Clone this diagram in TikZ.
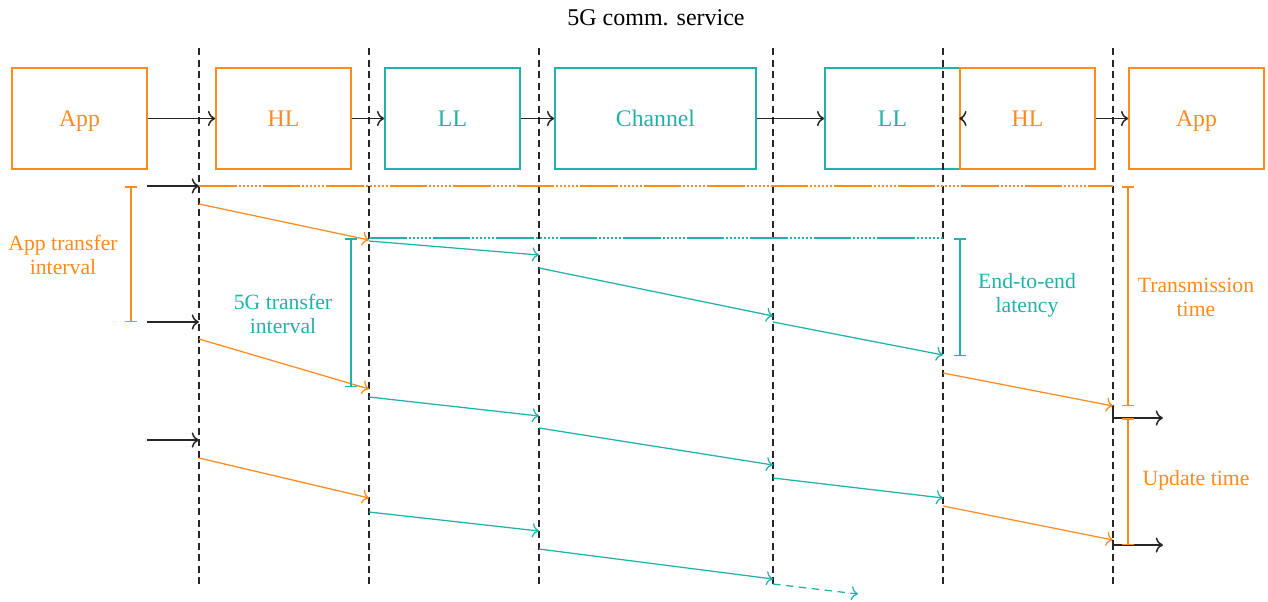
\documentclass[tikz,border=0pt]{standalone}
\usepackage{fontspec}
\setmainfont{Liberation Serif}
\usetikzlibrary{arrows.meta}
\definecolor{hlorange}{RGB}{255,138,30}
\definecolor{llteal}{RGB}{32,178,170}
\tikzset{
  stagebox/.style={draw, line width=0.6pt, minimum height=40.4pt, minimum width=54pt, text depth=0pt, font=\fontsize{9.5}{10}\selectfont},
  hlbox/.style={stagebox, draw=hlorange, text=hlorange},
  llbox/.style={stagebox, draw=llteal, text=llteal},
  boundary/.style={draw=black!85, line width=0.6pt, dash pattern=on 2.8pt off 1.8pt},
  flow/.style={->, black!85, line width=0.6pt},
  hlmsg/.style={->, hlorange, line width=0.5pt},
  llmsg/.style={->, llteal, line width=0.5pt},
  period/.style={line width=0.6pt, dash pattern=on 15pt off 0.8pt on 0.8pt off 0.8pt on 0.8pt off 0.8pt on 0.8pt off 0.8pt on 0.8pt off 0.8pt on 0.8pt off 0.8pt on 0.8pt off 0.8pt},
  span/.style={line width=0.6pt, {Bar[width=5pt]}-{Bar[width=5pt]}},
  caption/.style={align=center, font=\fontsize{8.7}{9.6}\selectfont}
}
\begin{document}
\begin{tikzpicture}[x={(0.4pt,0)}, y={(0,-0.4pt)}]
\useasboundingbox (0,0) rectangle (1268,601);

% title
\node[font=\fontsize{9.6}{10}\selectfont] (title) at (656,18) {5G comm. service};

% protocol stages
\node[hlbox] (app1) at (79.5,118.5) {App};
\node[hlbox] (hl1) at (283.5,118.5) {HL};
\node[llbox] (ll1) at (452.5,118.5) {LL};
\node[llbox, minimum width=80.4pt] (chan) at (655.5,118.5) {Channel};
\node[llbox] (ll2) at (892.5,118.5) {LL};
\node[hlbox] (hl2) at (1027.5,118.5) {HL};
\node[hlbox] (app2) at (1196.5,118.5) {App};

\draw[flow] (app1) -- (hl1);
\draw[flow] (hl1) -- (ll1);
\draw[flow] (ll1) -- (chan);
\draw[flow] (chan) -- (ll2);
\coordinate (llhl) at ([xshift=1.6pt]hl2.west);
\draw[flow] (llhl) -- (hl2.west);
\draw[flow] (hl2) -- (app2);

% layer boundaries
\foreach \n/\x in {a/199,b/369,c/539,d/773,e/943,f/1113}{
  \coordinate (\n top) at (\x,48);
  \coordinate (\n bot) at (\x,588);
  \draw[boundary] (\n top) -- (\n bot);
}

% application inputs
\coordinate (in1) at (147,186); \coordinate (in1e) at (199,186);
\coordinate (in2) at (147,322); \coordinate (in2e) at (199,322);
\coordinate (in3) at (147,440); \coordinate (in3e) at (199,440);
\draw[flow] (in1) -- (in1e);
\draw[flow] (in2) -- (in2e);
\draw[flow] (in3) -- (in3e);

% reference levels
\coordinate (p1e) at (1113,186);
\coordinate (q1s) at (369,238); \coordinate (q1e) at (943,238);
\draw[period, hlorange] (in1e) -- (p1e);
\draw[period, llteal] (q1s) -- (q1e);

% packet 1
\coordinate (a1) at (199,204); \coordinate (b1) at (369,240);
\coordinate (b1s) at (369,241); \coordinate (c1) at (539,255);
\coordinate (c1s) at (539,268); \coordinate (d1) at (773,316);
\coordinate (d1s) at (773,322); \coordinate (e1) at (943,355);
\coordinate (e1s) at (943,373); \coordinate (f1) at (1113,406);
\draw[hlmsg] (a1) -- (b1);
\draw[llmsg] (b1s) -- (c1);
\draw[llmsg] (c1s) -- (d1);
\draw[llmsg] (d1s) -- (e1);
\draw[hlmsg] (e1s) -- (f1);

% packet 2
\coordinate (a2) at (199,339); \coordinate (b2) at (369,389);
\coordinate (b2s) at (369,397); \coordinate (c2) at (539,416);
\coordinate (c2s) at (539,428); \coordinate (d2) at (773,465);
\coordinate (d2s) at (773,478); \coordinate (e2) at (943,498);
\coordinate (e2s) at (943,506); \coordinate (f2) at (1113,540);
\draw[hlmsg] (a2) -- (b2);
\draw[llmsg] (b2s) -- (c2);
\draw[llmsg] (c2s) -- (d2);
\draw[llmsg] (d2s) -- (e2);
\draw[hlmsg] (e2s) -- (f2);

% packet 3
\coordinate (a3) at (199,458); \coordinate (b3) at (369,498);
\coordinate (b3s) at (369,512); \coordinate (c3) at (539,531);
\coordinate (c3s) at (539,549); \coordinate (d3) at (773,579);
\coordinate (d3s) at (773,584); \coordinate (e3) at (858,594);
\draw[hlmsg] (a3) -- (b3);
\draw[llmsg] (b3s) -- (c3);
\draw[llmsg] (c3s) -- (d3);
\draw[llmsg, dash pattern=on 3pt off 2.2pt] (d3s) -- (e3);

% application outputs
\coordinate (out1) at (1163,418);
\coordinate (out2) at (1163,545);
\draw[flow] (f1) |- (out1);
\draw[flow] (f2) |- (out2);

% interval markers
\coordinate (ati) at (131,186); \coordinate (atb) at (131,322);
\draw[span, hlorange] (ati) -- (atb);
\node[caption, text=hlorange] (atlab) at (63,255) {App transfer\\interval};

\coordinate (gti) at (351,238); \coordinate (gtb) at (351,387);
\draw[span, llteal] (gti) -- (gtb);
\node[caption, text=llteal] (gtlab) at (283,314) {5G transfer\\interval};

\coordinate (eei) at (960,238); \coordinate (eeb) at (960,356);
\draw[span, llteal] (eei) -- (eeb);
\node[caption, text=llteal] (eelab) at (1027,295) {End-to-end\\latency};

\coordinate (tti) at (1128,186); \coordinate (ttb) at (1128,406);
\draw[span, hlorange] (tti) -- (ttb);
\node[caption, text=hlorange] (ttlab) at (1196,297) {Transmission\\time};

\coordinate (uti) at (1128,418); \coordinate (utb) at (1128,545);
\draw[span, hlorange] (uti) -- (utb);
\node[caption, text=hlorange] (utlab) at (1196,480) {Update time};
\end{tikzpicture}
\end{document}
